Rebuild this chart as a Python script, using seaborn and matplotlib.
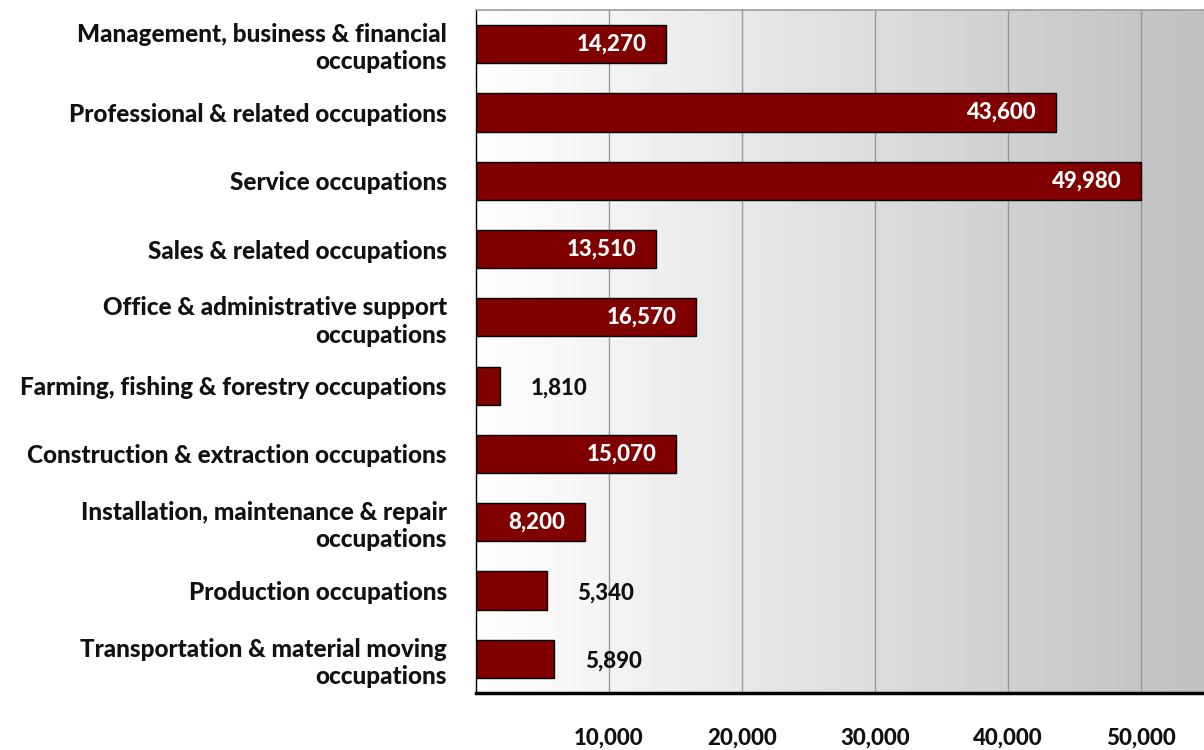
import numpy as np
import pandas as pd
import matplotlib
matplotlib.use("Agg")
import matplotlib.pyplot as plt
import seaborn as sns
from matplotlib.ticker import FuncFormatter

occupations = [
    "Management, business & financial\noccupations",
    "Professional & related occupations",
    "Service occupations",
    "Sales & related occupations",
    "Office & administrative support\noccupations",
    "Farming, fishing & forestry occupations",
    "Construction & extraction occupations",
    "Installation, maintenance & repair\noccupations",
    "Production occupations",
    "Transportation & material moving\noccupations",
]
employment = [14270, 43600, 49980, 13510, 16570, 1810, 15070, 8200, 5340, 5890]
x_ticks = [10000, 20000, 30000, 40000, 50000]

df = pd.DataFrame({"occupation": occupations, "employment": employment})

sns.set_theme(style="white")
plt.rcParams["font.family"] = ["Lato", "DejaVu Sans"]
WEIGHT = "black"
plt.rcParams["font.weight"] = WEIGHT

W, H = 1204, 750
fig = plt.figure(figsize=(W / 100, H / 100), dpi=100)
ax = fig.add_axes([476 / W, (H - 693) / H, (1207.5 - 476) / W, (693 - 10) / H])

xmax = 55000
ax.set_xlim(0, xmax)

# horizontal white-to-grey gradient behind the bars
grad = np.linspace(0, 1, 256).reshape(1, -1)
cmap = matplotlib.colors.LinearSegmentedColormap.from_list("bg", ["#ffffff", "#c0c0c0"])
ax.imshow(grad, extent=[0, xmax, len(occupations) - 0.5, -0.5], aspect="auto",
          cmap=cmap, zorder=0, interpolation="bicubic")

sns.barplot(data=df, y="occupation", x="employment", orient="h", color="#800000",
            edgecolor="black", linewidth=1.0, width=0.56, saturation=1, ax=ax, zorder=3)

ax.set_ylim(len(occupations) - 0.5, -0.5)
for xv in x_ticks:
    ax.axvline(xv, color="#999999", lw=1.0, zorder=1)

ax.set_xticks(x_ticks)
ax.xaxis.set_major_formatter(FuncFormatter(lambda v, p: f"{int(v):,}"))
ax.tick_params(axis="x", length=0, pad=25, labelsize=16)
ax.tick_params(axis="y", length=0, pad=21, labelsize=17.5)
for lbl in ax.get_xticklabels() + ax.get_yticklabels():
    lbl.set_fontweight(WEIGHT)
    lbl.set_color("#111111")
for lbl in ax.get_yticklabels():
    lbl.set_horizontalalignment("right")
    lbl.set_multialignment("right")
    lbl.set_linespacing(1.22)
ax.set_xlabel("")
ax.set_ylabel("")

for side in ["top", "right"]:
    ax.spines[side].set_color("#a0a0a0")
ax.spines["left"].set_color("black")
ax.spines["left"].set_linewidth(1.0)
ax.spines["bottom"].set_color("black")
ax.spines["bottom"].set_linewidth(2.5)
for s in ax.spines.values():
    s.set_zorder(5)

# value labels: inside the bar end when there's room, otherwise just past it
for i, v in enumerate(employment):
    txt = f"{v:,}"
    if v >= 8000:
        ax.annotate(txt, (v, i), xytext=(-14, 0), textcoords="offset points",
                    ha="right", va="center", color="white", fontsize=16,
                    fontweight=WEIGHT, zorder=6)
    else:
        ax.annotate(txt, (v, i), xytext=(22, -2), textcoords="offset points",
                    ha="left", va="center", color="#111111", fontsize=16,
                    fontweight=WEIGHT, zorder=6)

fig.savefig("out.png", dpi=100)
